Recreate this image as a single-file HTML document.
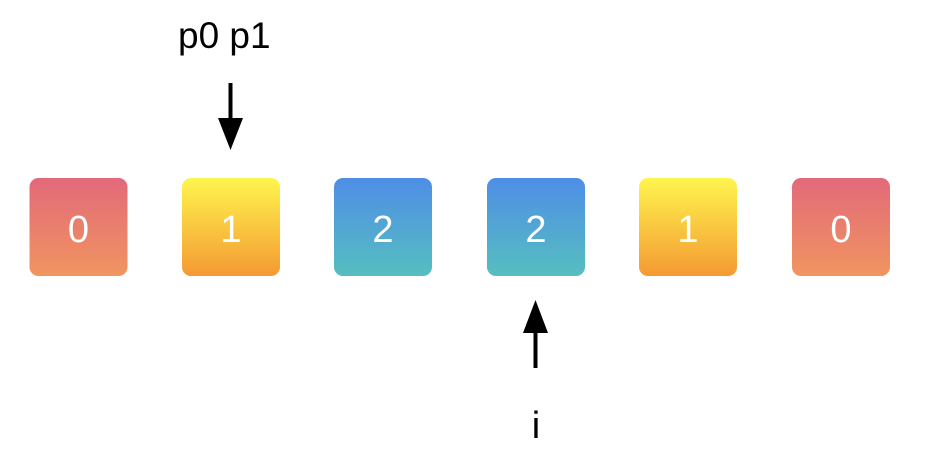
<!DOCTYPE html>
<html><head><meta charset="utf-8"><style>
html,body{margin:0;padding:0;background:#fff;}
body{width:952px;height:462px;overflow:hidden;}
</style></head><body>
<svg width="952" height="462" xmlns="http://www.w3.org/2000/svg" font-family="Liberation Sans, Arial, sans-serif">
<defs>
<linearGradient id="r" x1="0" y1="0" x2="0" y2="1"><stop offset="0" stop-color="#e2697a"/><stop offset="1" stop-color="#f19560"/></linearGradient>
<linearGradient id="y" x1="0" y1="0" x2="0" y2="1"><stop offset="0" stop-color="#fef54e"/><stop offset="1" stop-color="#f49a33"/></linearGradient>
<linearGradient id="b" x1="0" y1="0" x2="0" y2="1"><stop offset="0" stop-color="#4e8ee6"/><stop offset="1" stop-color="#56bec0"/></linearGradient>
</defs>
<rect x="29.5" y="178" width="98" height="98" rx="9" fill="url(#r)"/>
<rect x="182" y="178" width="98" height="98" rx="9" fill="url(#y)"/>
<rect x="334" y="178" width="98" height="98" rx="9" fill="url(#b)"/>
<rect x="487" y="178" width="98" height="98" rx="9" fill="url(#b)"/>
<rect x="639" y="178" width="98" height="98" rx="9" fill="url(#y)"/>
<rect x="792" y="178" width="98" height="98" rx="9" fill="url(#r)"/>
<g fill="#fff" font-size="38" text-anchor="middle">
<text x="78.5" y="242">0</text>
<text x="231" y="242">1</text>
<text x="383" y="242">2</text>
<text x="536" y="242">2</text>
<text x="688" y="242">1</text>
<text x="841" y="242">0</text>
</g>
<text x="178" y="48" font-size="37" fill="#000">p0 p1</text>
<line x1="230.5" y1="83" x2="230.5" y2="122" stroke="#000" stroke-width="4"/>
<polygon points="218,118 243,118 230.5,150" fill="#000"/>
<line x1="535.5" y1="330" x2="535.5" y2="368" stroke="#000" stroke-width="4"/>
<polygon points="523,333 548,333 535.5,300" fill="#000"/>
<text x="536" y="438" font-size="38" text-anchor="middle" fill="#000">i</text>
</svg>
</body></html>
